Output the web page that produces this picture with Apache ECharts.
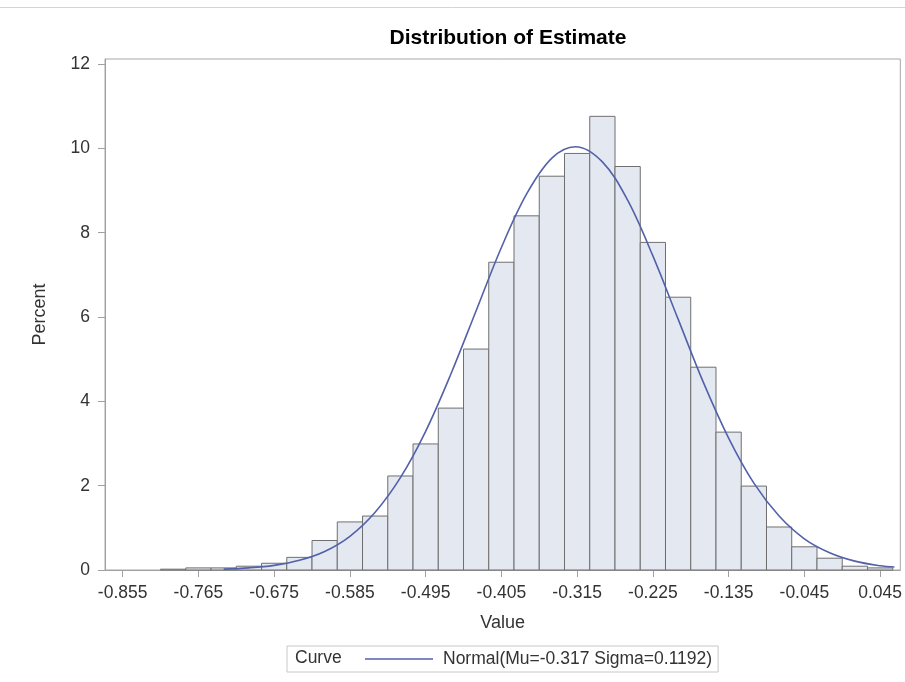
<!DOCTYPE html>
<html>
<head>
<meta charset="utf-8">
<script src="https://cdn.jsdelivr.net/npm/echarts@6/dist/echarts.min.js"></script>
<style>html,body{margin:0;padding:0;background:#fff;}#c{width:905px;height:682px;}</style>
</head>
<body>
<div id="c"></div>
<script>
// Histogram bin centers (Value) and bar heights (Percent)
const binCenters = [-0.795,-0.765,-0.735,-0.705,-0.675,-0.645,-0.615,-0.585,-0.555,-0.525,-0.495,-0.465,-0.435,-0.405,-0.375,-0.345,-0.315,-0.285,-0.255,-0.225,-0.195,-0.165,-0.135,-0.105,-0.075,-0.045,-0.015,0.015,0.045];
const percents   = [0.02,0.05,0.05,0.09,0.16,0.30,0.70,1.14,1.28,2.23,2.99,3.84,5.24,7.30,8.40,9.34,9.88,10.76,9.57,7.77,6.47,4.81,3.27,1.99,1.02,0.55,0.28,0.09,0.05];
const binWidth = 0.03;

// Normal curve points
const curveX = [-0.735,-0.705,-0.675,-0.645,-0.615,-0.585,-0.555,-0.525,-0.495,-0.465,-0.435,-0.405,-0.375,-0.345,-0.317,-0.285,-0.255,-0.225,-0.195,-0.165,-0.135,-0.105,-0.075,-0.045,-0.015,0.015,0.045,0.062];
const curveY = [0.02,0.05,0.11,0.23,0.44,0.80,1.37,2.19,3.29,4.65,6.15,7.65,8.92,9.77,10.04,9.68,8.77,7.45,5.95,4.45,3.13,2.06,1.28,0.74,0.41,0.21,0.10,0.07];

const xTicks = [-0.855,-0.765,-0.675,-0.585,-0.495,-0.405,-0.315,-0.225,-0.135,-0.045,0.045];
const yTicks = [0,2,4,6,8,10,12];

const curveName = 'Normal(Mu=-0.317 Sigma=0.1192)';
const FONT = "'Liberation Sans', Arial, sans-serif";

const chart = echarts.init(document.getElementById('c'), null, {renderer:'canvas'});
const histData = binCenters.map((c,i)=>[c, percents[i]]);
const curveData = curveX.map((x,i)=>[x, curveY[i]]);

chart.setOption({
  animation:false,
  backgroundColor:'#fff',
  textStyle:{fontFamily:FONT},
  title:{
    text:'Distribution of Estimate',
    left:503, top:23, textAlign:'center',
    textStyle:{fontFamily:FONT, fontWeight:'bold', fontSize:21, color:'#000'}
  },
  grid:{left:105, right:3, top:59, bottom:112, show:true, borderColor:'#a8a8a8', borderWidth:1, backgroundColor:'transparent'},
  xAxis:{
    type:'value', min:-0.876, max:0.069,
    name:'Value', nameLocation:'middle', nameGap:44,
    nameTextStyle:{fontFamily:FONT, fontSize:18, color:'#333'},
    axisLine:{show:true, onZero:false, lineStyle:{color:'#a0a0a0', width:1}},
    axisTick:{show:true, length:7, customValues:xTicks, lineStyle:{color:'#a0a0a0'}},
    axisLabel:{customValues:xTicks, margin:14, fontSize:17.5, color:'#333', fontFamily:FONT,
      formatter:v=>v.toFixed(3)},
    splitLine:{show:false}
  },
  yAxis:{
    type:'value', min:0, max:12.12,
    name:'Percent', nameLocation:'middle', nameGap:56, nameRotate:90,
    nameTextStyle:{fontFamily:FONT, fontSize:18, color:'#333'},
    axisLine:{show:true, onZero:false, lineStyle:{color:'#a0a0a0', width:1}},
    axisTick:{show:true, length:7, customValues:yTicks, lineStyle:{color:'#a0a0a0'}},
    axisLabel:{customValues:yTicks, margin:15, fontSize:17.5, color:'#333', fontFamily:FONT},
    splitLine:{show:false}
  },
  legend:{
    data:[{name:curveName, icon:'rect'}],
    left:287, top:646,
    padding:[4,6,4,78],
    itemWidth:68, itemHeight:1.6,
    itemStyle:{color:'#5261a9'},
    borderColor:'#c8c8c8', borderWidth:1,
    textStyle:{fontFamily:FONT, fontSize:17.5, color:'#333', padding:[0,0,0,5]}
  },
  graphic:[
    {type:'line', shape:{x1:0,y1:7.5,x2:905,y2:7.5}, style:{stroke:'#d4d4d4', lineWidth:1}},
    {type:'text', left:295, top:649, style:{text:'Curve', fontFamily:FONT, fontSize:17.5, fill:'#333'}}
  ],
  series:[
    {
      type:'custom', name:'Histogram', data:histData,
      renderItem:function(params, api){
        const x = api.value(0), y = api.value(1);
        const p0 = api.coord([x - binWidth/2, y]);
        const p1 = api.coord([x + binWidth/2, 0]);
        return {type:'rect',
          shape:{x:p0[0], y:p0[1], width:p1[0]-p0[0], height:p1[1]-p0[1]},
          style:{fill:'#e3e8f1', stroke:'#6f6f6f', lineWidth:1}};
      },
      z:2
    },
    {
      type:'line', name:curveName, data:curveData,
      symbol:'none', smooth:0.35,
      lineStyle:{color:'#5261a9', width:1.6},
      itemStyle:{color:'#5261a9'},
      z:5
    }
  ]
});
</script>
</body>
</html>
